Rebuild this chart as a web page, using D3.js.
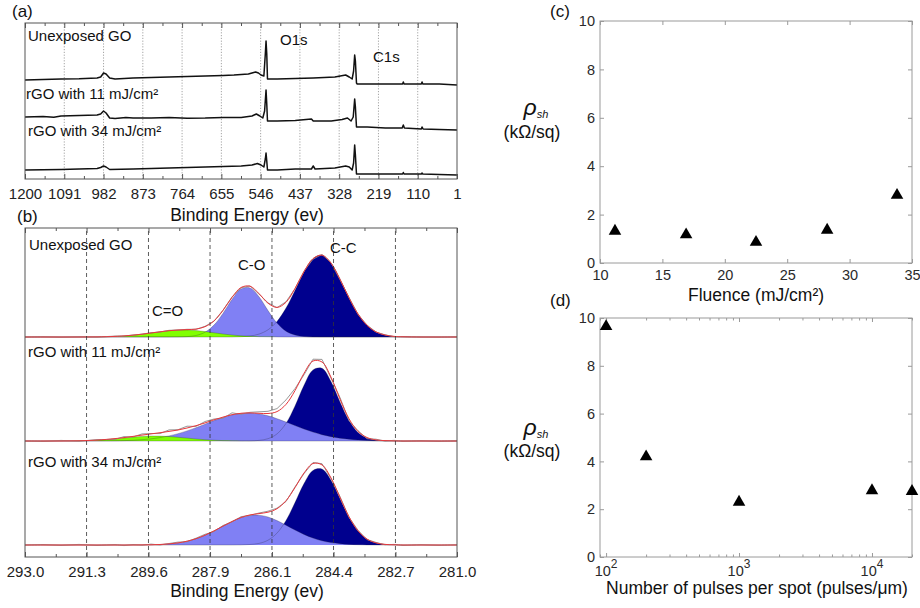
<!DOCTYPE html>
<html><head><meta charset="utf-8">
<script src="https://cdn.jsdelivr.net/npm/d3@7/dist/d3.min.js"></script>
<style>
html,body{margin:0;padding:0;background:#fff;}
text{font-family:"Liberation Sans",Arial,Helvetica,sans-serif;}
</style></head><body>
<svg id="chart" width="920" height="608"></svg>
<script>
// ===================== DATA =====================
// (a) XPS survey spectra: [binding energy (eV), intensity (a.u.)]
const surveyTicks = [1200,1091,982,873,764,655,546,437,328,219,110,1];
const surveyGO = [[1200,99],[1150,99.5],[1100,100],[1050,100.3],[1000,101],[990,102],[982,106],[975,105],[965,101],[950,100],[900,101],[850,101.5],[800,102],[750,102.5],[700,103],[650,103.5],[620,104],[580,105],[560,107],[552,106],[545,104],[537,103],[533,125],[531,138],[529,125],[527,100],[524,100],[500,100],[450,100.5],[400,101],[340,102],[310,104],[300,102],[292,100],[288,108],[285,124],[283,118],[280,96],[278,95],[250,95],[200,95],[152,95],[150,97],[148,95],[100,95],[98,97],[96,95],[50,95],[1,94]];
const survey11 = [[1200,62],[1150,62.5],[1120,61.8],[1100,63],[1050,63.5],[1000,64],[990,65],[982,68],[975,66],[965,61],[950,60.5],[920,61.5],[900,61],[850,61],[800,61.5],[750,60.8],[700,61],[650,61.6],[600,61.5],[570,63],[558,65],[548,63],[540,61],[535,68],[531,89],[529,75],[527,58],[500,58],[450,58.5],[405,60],[400,58],[350,58],[320,59.5],[305,61],[295,58],[289,62],[285,80],[283,72],[280,52],[250,52],[200,51],[153,51],[150,54],[147,51],[100,50],[98,52],[95,50],[50,49.5],[1,49]];
const survey34 = [[1200,9],[1100,9.5],[1000,10.5],[990,11.5],[982,13],[975,12],[965,9.5],[900,10],[800,11],[700,12],[600,13],[570,14],[555,15.5],[545,14],[537,12],[533,20],[531,26],[529,18],[527,9],[500,9],[450,10],[405,10],[400,13],[395,10],[340,11],[310,13],[300,12],[292,9],[288,16],[285,34],[283,24],[280,5],[250,5],[200,5],[152,5],[150,6.5],[148,5],[100,5],[98,6],[96,5],[50,4.5],[1,4]];
const sampleNames = ["Unexposed GO","rGO with 11 mJ/cm²","rGO with 34 mJ/cm²"];

// (b) C1s high-resolution spectra, fitted components on a shared energy grid
const c1sTicks = [293,291.29,289.57,287.86,286.14,284.43,282.71,281];
const energy = [293,292.5,292,291.5,291,290.5,290.25,290,289.75,289.5,289.25,289,288.75,288.5,288.25,288,287.75,287.5,287.25,287,286.75,286.5,286.25,286,285.75,285.5,285.25,285,284.75,284.5,284.25,284,283.75,283.5,283.25,283,282.75,282.5,282,281.5,281];
const goCC  = [0,0,0,0,0,0,0,0,0,0, 0,0,0,0,0,0,0,0,0,0.3, 1.0,2.9,7.2,15.6,28.9,46.6,64.9,78.3,81.8,73.9, 57.8,39.2,23.0,11.7,5.1,2.0,0.6,0.2,0,0, 0];
const goCO  = [0,0,0,0,0,0,0,0,0,0, 0,0,0.1,0.4,1.5,4.8,11.9,23.6,37.6,48.0, 49.1,40.2,26.4,13.9,5.8,2.0,0.5,0.1,0,0, 0,0,0,0,0,0,0,0,0,0, 0];
const goCdO = [0,0,0,0,0.1,0.6,1.1,1.8,2.8,4.0, 5.2,6.3,6.9,7.0,6.4,5.5,4.2,3.0,2.0,1.2, 0.7,0.3,0.2,0.1,0,0,0,0,0,0, 0,0,0,0,0,0,0,0,0,0, 0];
const r11CC  = [0,0,0,0,0,0,0,0,0,0, 0,0,0,0,0,0,0,0,0,0, 0.1,0.6,2.3,7.1,17.6,35.0,55.7,71.1,72.7,59.5, 39.1,20.5,8.6,2.9,0.8,0.2,0,0,0,0, 0];
const r11CO  = [0,0,0,0,0.1,0.2,0.4,0.7,1.3,2.1, 3.4,5.1,7.3,10.1,13.3,16.8,20.4,23.5,26.1,27.6, 28.0,27.1,25.2,22.3,19.0,15.4,12.0,8.9,6.3,4.3, 2.8,1.8,1.0,0.6,0.3,0.2,0.1,0,0,0, 0];
const r11CdO = [0,0,0,0.2,0.8,2.2,3.0,3.9,4.6,5.0, 4.9,4.5,3.7,2.9,2.0,1.3,0.8,0.4,0.2,0.1, 0,0,0,0,0,0,0,0,0,0, 0,0,0,0,0,0,0,0,0,0, 0];
const r34CC  = [0,0,0,0,0,0,0,0,0,0, 0,0,0,0,0,0,0,0,0,0.1, 0.5,1.6,4.8,11.9,24.5,42.4,61.4,74.6,75.9,64.7, 46.3,27.7,13.9,5.8,2.1,0.6,0.2,0,0,0, 0];
const r34CO  = [0,0,0,0,0,0,0,0,0.1,0.2, 0.5,1.1,2.1,3.8,6.3,9.8,14.1,18.9,23.5,27.4, 29.6,29.8,28.0,24.4,19.8,15.0,10.6,6.9,4.2,2.4, 1.3,0.6,0.3,0.1,0,0,0,0,0,0, 0];
// raw data deviation from the fitted envelope
const goRaw  = [0,0.3,-0.3,0.2,-0.2,0.3,-0.2,0.2,0,0.3, -0.3,0.4,0,0.3,-0.2,0.4,-0.3,0.2,0.5,-0.4, 0.3,-0.5,0.4,-0.3,0.6,-0.4,0.5,-0.6,0.8,0.5, -0.5,0.4,-0.3,0.3,-0.2,0.2,-0.3,0.2,0,-0.2, 0.2];
const r11Raw = [0,-0.5,0.6,-0.4,0.5,-0.8,1.0,-0.6,1.2,0.4, -0.9,1.5,0.3,1.8,-0.7,1.4,0.8,-1.2,1.9,-1.0, 0.6,1.5,2.2,3.0,4.5,2.0,-1.5,1.8,2.6,-1.0, 1.6,-2.0,0.8,-1.2,0.7,-0.5,0.6,-0.4,0.3,-0.5, 0.2];
const r34Raw = [0,0.5,-0.4,0.6,-0.5,0.4,-0.6,0.5,-0.3,0.7, -0.5,0.4,0.8,-0.6,0.5,0.9,-0.7,0.6,-0.4,0.8, -0.5,0.6,1.0,0.5,-0.8,0.7,-0.6,1.0,1.2,-0.8, 0.9,-0.7,0.6,-0.5,0.5,-0.4,0.4,-0.5,0.3,-0.4, 0.2];
const stackOffsets = [220,116,12];
const componentNames = ["C-C","C-O","C=O"];

// (c) sheet resistance vs fluence
const fluence = [11.2,16.9,22.5,28.2,33.8];
const rhoFluence = [1.32,1.17,0.86,1.36,2.8];
const fluenceTicks = [10,15,20,25,30,35];
const rhoTicks = [0,2,4,6,8,10];
// (d) sheet resistance vs pulses per spot
const pulses = [100,200,1000,10000,20000];
const rhoPulses = [9.65,4.2,2.3,2.78,2.75];
const pulseTicks = [100,1000,10000];

// ===================== DRAW =====================
const svg = d3.select("#chart");
const frameCol = "#555", tickCol = "#222";

function txt(g, x, y, s, size, opts={}) {
  const t = g.append("text").attr("x", x).attr("y", y).attr("font-size", size)
    .attr("fill", opts.fill || "#111").text(s);
  if (opts.anchor) t.attr("text-anchor", opts.anchor);
  if (opts.style) t.attr("font-style", opts.style);
  return t;
}

// ---------- (a) survey ----------
const xA = d3.scaleLinear().domain([1200, 1]).range([25, 457]);
const yA = d3.scaleLinear().domain([0, 156]).range([179, 23]);
const gA = svg.append("g");
gA.selectAll("line.grid").data(surveyTicks.slice(1, -1)).join("line")
  .attr("x1", d => xA(d)).attr("x2", d => xA(d)).attr("y1", yA(0)).attr("y2", yA(156))
  .attr("stroke", "#9a9a9a").attr("stroke-width", 0.9).attr("stroke-dasharray", "1.2,1.6");
const minorA = d3.pairs(surveyTicks).map(([a, b]) => (a + b) / 2);
[ [d3.axisBottom, yA(0)], [d3.axisTop, yA(156)] ].forEach(([ax, yy], i) => {
  const gMaj = gA.append("g").attr("transform", `translate(0,${yy})`)
    .call(ax(xA).tickValues(surveyTicks).tickFormat(i === 0 ? d3.format("d") : "").tickSizeInner(-5).tickSizeOuter(0).tickPadding(9));
  gMaj.select(".domain").remove();
  gMaj.selectAll("line").attr("stroke", frameCol);
  gMaj.selectAll("text").attr("font-size", 15).attr("fill", tickCol).attr("font-family", null);
  const gMin = gA.append("g").attr("transform", `translate(0,${yy})`)
    .call(ax(xA).tickValues(minorA).tickFormat("").tickSizeInner(-3).tickSizeOuter(0));
  gMin.select(".domain").remove();
  gMin.selectAll("line").attr("stroke", frameCol);
});
const lineA = d3.line().x(d => xA(d[0])).y(d => yA(d[1]));
[surveyGO, survey11, survey34].forEach(s => {
  gA.append("path").datum(s).attr("d", lineA).attr("fill", "none")
    .attr("stroke", "#111").attr("stroke-width", 1.5).attr("stroke-linejoin", "round");
});
gA.append("rect").attr("x", 25).attr("y", 23).attr("width", 432).attr("height", 156)
  .attr("fill", "none").attr("stroke", frameCol).attr("stroke-width", 1);
txt(gA, 28, 41, sampleNames[0], 15);
txt(gA, 26, 99, sampleNames[1], 15);
txt(gA, 28, 136, sampleNames[2], 15);
txt(gA, 280, 45, "O1s", 15);
txt(gA, 373, 62, "C1s", 15);
txt(gA, 247, 221, "Binding Energy (ev)", 17.5, {anchor: "middle"});
txt(gA, 12, 17, "(a)", 17);

// ---------- (b) C1s ----------
const xB = d3.scaleLinear().domain([293, 281]).range([25, 457]);
const yB = d3.scaleLinear().domain([0, 329]).range([557, 228]);
const gB = svg.append("g");
svg.append("defs").append("clipPath").attr("id", "clipB")
  .append("rect").attr("x", 25).attr("y", 228).attr("width", 432).attr("height", 329);
const plotB = gB.append("g").attr("clip-path", "url(#clipB)");
const spectra = [
  {off: stackOffsets[0], comps: [goCC, goCO, goCdO], raw: goRaw},
  {off: stackOffsets[1], comps: [r11CC, r11CO, r11CdO], raw: r11Raw},
  {off: stackOffsets[2], comps: [r34CC, r34CO], raw: r34Raw}
];
const compColors = ["#00008e", "#8080f4", "#80ff00"];
spectra.forEach(sp => {
  const env = energy.map((e, i) => sp.comps.reduce((s, c) => s + c[i], 0));
  sp.comps.forEach((c, k) => {
    const area = d3.area().x((d, i) => xB(energy[i])).y0(yB(sp.off)).y1((d) => yB(sp.off + d))
      .curve(d3.curveCatmullRom);
    plotB.append("path").datum(c).attr("d", area).attr("fill", compColors[k]);
  });
  sp.comps.forEach((c) => {
    const ln = d3.line().x((d, i) => xB(energy[i])).y(d => yB(sp.off + d)).curve(d3.curveCatmullRom);
    plotB.append("path").datum(c).attr("d", ln).attr("fill", "none")
      .attr("stroke", "#223").attr("stroke-opacity", 0.45).attr("stroke-width", 0.6);
  });
  const rawLine = d3.line().x((d, i) => xB(energy[i])).y((d, i) => yB(sp.off + env[i] + d));
  plotB.append("path").datum(sp.raw).attr("d", rawLine).attr("fill", "none")
    .attr("stroke", "#8c8c8c").attr("stroke-width", 0.9);
  const envLine = d3.line().x((d, i) => xB(energy[i])).y(d => yB(sp.off + d)).curve(d3.curveCatmullRom);
  plotB.append("path").datum(env).attr("d", envLine).attr("fill", "none")
    .attr("stroke", "#e8383c").attr("stroke-width", 1.0);
});
gB.selectAll("line.grid").data(c1sTicks.slice(1, -1)).join("line")
  .attr("x1", d => xB(d)).attr("x2", d => xB(d)).attr("y1", 557).attr("y2", 228)
  .attr("stroke", "#333").attr("stroke-width", 0.8).attr("stroke-dasharray", "4,3");
const minorB = d3.pairs(c1sTicks).map(([a, b]) => (a + b) / 2);
[ [d3.axisBottom, 557], [d3.axisTop, 228] ].forEach(([ax, yy], i) => {
  const gMaj = gB.append("g").attr("transform", `translate(0,${yy})`)
    .call(ax(xB).tickValues(c1sTicks).tickFormat(i === 0 ? d3.format(".1f") : "").tickSizeInner(-5).tickSizeOuter(0).tickPadding(9));
  gMaj.select(".domain").remove();
  gMaj.selectAll("line").attr("stroke", frameCol);
  gMaj.selectAll("text").attr("font-size", 15).attr("fill", tickCol).attr("font-family", null);
  const gMin = gB.append("g").attr("transform", `translate(0,${yy})`)
    .call(ax(xB).tickValues(minorB).tickFormat("").tickSizeInner(-3).tickSizeOuter(0));
  gMin.select(".domain").remove();
  gMin.selectAll("line").attr("stroke", frameCol);
});
gB.append("rect").attr("x", 25).attr("y", 228).attr("width", 432).attr("height", 329)
  .attr("fill", "none").attr("stroke", frameCol).attr("stroke-width", 1);
txt(gB, 29, 250, sampleNames[0], 15);
txt(gB, 28, 357, sampleNames[1], 15);
txt(gB, 28, 467, sampleNames[2], 15);
txt(gB, 330, 253, componentNames[0], 15);
txt(gB, 238, 270, componentNames[1], 15);
txt(gB, 152, 316, componentNames[2], 15);
txt(gB, 247, 597, "Binding Energy (ev)", 17.5, {anchor: "middle"});
txt(gB, 17, 222, "(b)", 17);

// ---------- (c), (d) ----------
const boxCol = "#9a9a9a", numCol = "#2a2a2a";
function boxPanel(g, x, y, xTicks, yTicks, xFmt, xMinor) {
  const [x0, x1] = x.range(), [y0, y1] = y.range();
  g.append("rect").attr("x", x0).attr("y", y1).attr("width", x1 - x0).attr("height", y0 - y1)
    .attr("fill", "none").attr("stroke", boxCol).attr("stroke-width", 1);
  const defs = [
    [d3.axisBottom(x), `translate(0,${y0})`, xTicks, xFmt],
    [d3.axisTop(x), `translate(0,${y1})`, xTicks, ""],
    [d3.axisLeft(y), `translate(${x0},0)`, yTicks, d3.format("d")],
    [d3.axisRight(y), `translate(${x1},0)`, yTicks, ""]
  ];
  defs.forEach(([ax, tr, tv, fmt], i) => {
    const gg = g.append("g").attr("transform", tr)
      .call(ax.tickValues(tv).tickFormat(fmt).tickSizeInner(-4).tickSizeOuter(0).tickPadding(i === 2 ? 5 : 7));
    gg.select(".domain").remove();
    gg.selectAll("line").attr("stroke", boxCol);
    gg.selectAll("text").attr("font-size", 14.5).attr("fill", numCol).attr("font-family", null);
    if (fmt === "") gg.selectAll("text").remove();
  });
  if (xMinor) {
    [[d3.axisBottom(x), y0], [d3.axisTop(x), y1]].forEach(([ax, yy]) => {
      const gg = g.append("g").attr("transform", `translate(0,${yy})`)
        .call(ax.tickValues(xMinor).tickFormat("").tickSizeInner(-2.5).tickSizeOuter(0));
      gg.select(".domain").remove();
      gg.selectAll("line").attr("stroke", boxCol);
      gg.selectAll("text").remove();
    });
  }
}
function rhoLabel(g, cx, yRho, yUnit) {
  const t = g.append("text").attr("x", cx + 4).attr("y", yRho).attr("text-anchor", "middle").attr("fill", "#111");
  t.append("tspan").attr("font-size", 23).attr("font-style", "italic").text("ρ");
  t.append("tspan").attr("font-size", 11).attr("font-style", "italic").attr("dy", 3).text("sh");
  txt(g, cx, yUnit, "(kΩ/sq)", 17.5, {anchor: "middle"});
}
const tri = d3.symbol(d3.symbolTriangle, 68);

const xC = d3.scaleLinear().domain([10, 35]).range([600, 912]);
const yC = d3.scaleLinear().domain([0, 10]).range([263, 21]);
const gC = svg.append("g");
boxPanel(gC, xC, yC, fluenceTicks, rhoTicks, d3.format("d"), null);
gC.selectAll("path.pt").data(fluence).join("path")
  .attr("transform", (d, i) => `translate(${xC(d)},${yC(rhoFluence[i])})`).attr("d", tri).attr("fill", "#000");
txt(gC, 756, 301, "Fluence (mJ/cm²)", 17.5, {anchor: "middle"});
rhoLabel(gC, 532, 115, 138);
txt(gC, 550, 17, "(c)", 17);

const xD = d3.scaleLog().domain([90, 20000]).range([600, 912]);
const yD = d3.scaleLinear().domain([0, 10]).range([557, 318]);
const gD = svg.append("g");
const minorD = xD.ticks().filter(v => !pulseTicks.includes(v));
boxPanel(gD, xD, yD, pulseTicks, rhoTicks, "", minorD);
gD.selectAll("text.pw").data(pulseTicks).join("text")
  .attr("x", d => xD(d)).attr("y", 576).attr("text-anchor", "middle").attr("font-size", 14.5).attr("fill", numCol)
  .each(function(d) {
    const t = d3.select(this);
    t.append("tspan").text("10");
    t.append("tspan").attr("font-size", 12).attr("dy", -8).text(String(Math.round(Math.log10(d))));
  });
gD.selectAll("path.pt").data(pulses).join("path")
  .attr("transform", (d, i) => `translate(${xD(d)},${yD(rhoPulses[i])})`).attr("d", tri).attr("fill", "#000");
txt(gD, 757, 594, "Number of pulses per spot (pulses/μm)", 17.5, {anchor: "middle"});
rhoLabel(gD, 532, 435, 457);
txt(gD, 550, 306, "(d)", 17);
</script>
</body></html>
